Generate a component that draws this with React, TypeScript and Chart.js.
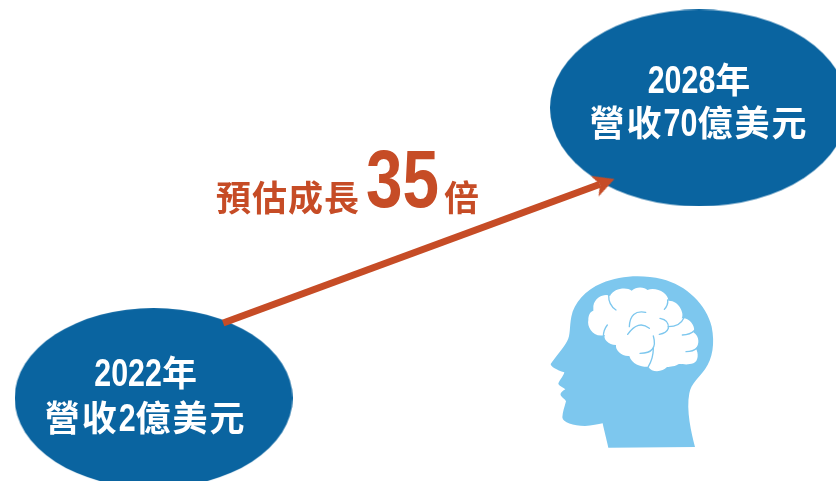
import React, { useEffect, useRef } from "react";
import { Chart, registerables } from "chart.js";

Chart.register(...registerables);

// Revenue in hundred million USD at the two forecast milestones
const years = [2022, 2028];
const revenue = [2, 70];
const yearLabels = ["2022年", "2028年"];
const revenueLabels = ["營收2億美元", "營收70億美元"];

// Growth arrow, in the same year / revenue units as the milestones
const arrowYears = [2022.765, 2026.91];
const arrowRevenue = [19.6, 52.1];

const growthRuns = ["預估成長", "35", "倍"];

const BLUE = "#0A64A0";
const RUST = "#C64C26";
const SKY = "#7DC7EE";
const LATIN = '"Liberation Sans", sans-serif';
const CJK = '"Noto Sans CJK TC", sans-serif';
const NARROWING = 0.8;

const HEAD_PATH =
  "M495,531 C484,490 468,420 478,370 C484,340 505,325 525,298 C548,265 555,220 545,170 C530,105 470,45 395,27 C340,14 270,15 215,40 C165,60 132,100 124,140 C118,170 122,195 112,212 C100,235 75,262 62,282 C62,290 80,300 103,307 C100,320 85,335 85,342 C88,348 100,352 106,358 C100,362 90,368 92,376 C96,384 106,388 108,394 C104,410 98,425 97,442 C98,458 130,468 165,468 C185,467 205,463 218,460 C222,480 230,510 235,533 Z";

const BRAIN_PATH =
  "M190,108 C195,80 225,70 240,78 C250,55 290,50 305,62 C320,48 345,52 352,60 C380,50 415,70 415,92 C445,90 465,130 455,145 C480,140 500,175 490,187 C510,200 508,225 497,235 C507,250 505,275 490,280 C470,287 450,280 445,283 C430,292 415,290 410,292 C400,305 365,310 355,290 C340,292 305,285 298,258 C275,260 255,240 258,225 C235,225 218,205 225,195 C190,205 170,170 175,150 C175,135 180,125 190,122 Z";

const BRAIN_FOLDS = [
  "M236,75 Q235,105 258,120",
  "M347,127 Q300,118 298,170",
  "M358,175 Q325,148 293,193",
  "M390,145 Q418,150 415,175 Q410,190 388,193",
  "M415,170 Q450,170 462,143",
  "M457,195 Q480,195 495,180",
  "M468,245 Q490,245 500,235",
  "M370,198 Q385,250 330,250",
  "M370,235 Q370,265 355,290",
  "M232,165 Q220,180 220,200",
  "M403,118 Q415,105 413,90",
];

function makeEllipse(rx: number, ry: number) {
  const c = document.createElement("canvas");
  c.width = Math.ceil(rx * 2);
  c.height = Math.ceil(ry * 2);
  const g = c.getContext("2d")!;
  g.fillStyle = BLUE;
  g.beginPath();
  g.ellipse(c.width / 2, c.height / 2, rx, ry, 0, 0, Math.PI * 2);
  g.fill();
  return c;
}

function makeArrowHead() {
  const c = document.createElement("canvas");
  c.width = 44;
  c.height = 44;
  const g = c.getContext("2d")!;
  g.fillStyle = RUST;
  g.beginPath();
  g.moveTo(37.5, 22);
  g.lineTo(16.5, 11);
  g.lineTo(22, 22);
  g.lineTo(16.5, 33);
  g.closePath();
  g.fill();
  return c;
}

// Digits are squeezed horizontally to give the condensed look of the captions
function drawDigits(ctx: CanvasRenderingContext2D, text: string, x: number, y: number) {
  ctx.save();
  ctx.translate(x, y);
  ctx.scale(NARROWING, 1);
  ctx.fillText(text, 0, 0);
  ctx.restore();
}

// Draws one line of mixed text: condensed digits followed by ideographs
function drawMixed(
  ctx: CanvasRenderingContext2D,
  text: string,
  centerX: number,
  baseline: number,
  digitSize: number,
  cjkSize: number,
  spacing: number,
) {
  const runs = text.match(/\d+|[^\d]+/g) || [];
  const styled = runs.map((run) => {
    const digits = /\d/.test(run);
    return {
      run,
      digits,
      font: digits ? `bold ${digitSize}px ${LATIN}` : `bold ${cjkSize}px ${CJK}`,
      gap: digits ? 0 : spacing,
    };
  });
  const widthOf = (s: (typeof styled)[number]) => {
    ctx.font = s.font;
    ctx.letterSpacing = `${s.gap}px`;
    return ctx.measureText(s.run).width * (s.digits ? NARROWING : 1);
  };
  const total = styled.reduce((sum, s) => sum + widthOf(s), 0);
  let x = centerX - total / 2;
  for (const s of styled) {
    const w = widthOf(s);
    if (s.digits) drawDigits(ctx, s.run, x, baseline);
    else ctx.fillText(s.run, x, baseline);
    x += w;
  }
  ctx.letterSpacing = "0px";
}

const annotations = {
  id: "annotations",
  afterDatasetsDraw(chart: any) {
    const { ctx, scales } = chart;
    const { x: xs, y: ys } = scales;
    ctx.save();
    ctx.textAlign = "left";
    ctx.textBaseline = "alphabetic";

    // Milestone captions inside the ellipses
    ctx.fillStyle = "#FFFFFF";
    years.forEach((year, i) => {
      const px = xs.getPixelForValue(year);
      const py = ys.getPixelForValue(revenue[i]);
      const shift = i === 0 ? -8 : 0;
      drawMixed(ctx, yearLabels[i], px + shift, py + (i === 0 ? -12 : -15), 38, 35, 0);
      drawMixed(ctx, revenueLabels[i], px + shift, py + (i === 0 ? 33 : 28), 38, 35, 2);
    });

    // Growth headline above the arrow
    ctx.fillStyle = RUST;
    ctx.font = `bold 35px ${CJK}`;
    ctx.letterSpacing = "1px";
    ctx.fillText(growthRuns[0], 216, 211);
    ctx.letterSpacing = "0px";
    ctx.font = `bold 82px ${LATIN}`;
    drawDigits(ctx, growthRuns[1], 366, 207);
    ctx.font = `bold 35px ${CJK}`;
    ctx.fillText(growthRuns[2], 444, 211);

    // Head silhouette with the brain inside
    ctx.translate(530, 270);
    ctx.scale(1 / 3, 1 / 3);
    ctx.fillStyle = SKY;
    ctx.fill(new Path2D(HEAD_PATH));
    ctx.fillStyle = "#FFFFFF";
    ctx.fill(new Path2D(BRAIN_PATH));
    ctx.strokeStyle = SKY;
    ctx.lineWidth = 4;
    ctx.lineCap = "round";
    for (const fold of BRAIN_FOLDS) ctx.stroke(new Path2D(fold));
    ctx.restore();
  },
};

export default function App() {
  const ref = useRef<HTMLCanvasElement>(null);

  useEffect(() => {
    document.body.style.margin = "0";
    const chart = new Chart(ref.current!, {
      type: "scatter",
      data: {
        datasets: [
          {
            label: "成長",
            data: arrowYears.map((x, i) => ({ x, y: arrowRevenue[i] })),
            showLine: true,
            borderColor: RUST,
            backgroundColor: RUST,
            borderWidth: 7,
            borderCapStyle: "butt",
            pointRadius: [0, 1],
            pointStyle: [false, makeArrowHead()],
            pointRotation: (c: any) => {
              const { x: xs, y: ys } = c.chart.scales;
              const dx = xs.getPixelForValue(arrowYears[1]) - xs.getPixelForValue(arrowYears[0]);
              const dy = ys.getPixelForValue(arrowRevenue[1]) - ys.getPixelForValue(arrowRevenue[0]);
              return (Math.atan2(dy, dx) * 180) / Math.PI;
            },
            clip: false,
          },
          {
            label: "營收",
            data: years.map((x, i) => ({ x, y: revenue[i] })),
            pointRadius: 1,
            pointStyle: [makeEllipse(139, 90), makeEllipse(149, 98.5)],
            clip: false,
          },
        ],
      },
      options: {
        responsive: false,
        animation: false,
        layout: { padding: 0, autoPadding: false },
        plugins: { legend: { display: false }, tooltip: { enabled: false } },
        scales: {
          x: { type: "linear", display: false, min: 2020.31, max: 2029.507 },
          y: { type: "linear", display: false, min: -17.46, max: 95.32 },
        },
      } as any,
      plugins: [annotations],
    } as any);
    return () => chart.destroy();
  }, []);

  return <canvas ref={ref} width={836} height={481} style={{ display: "block" }} />;
}
